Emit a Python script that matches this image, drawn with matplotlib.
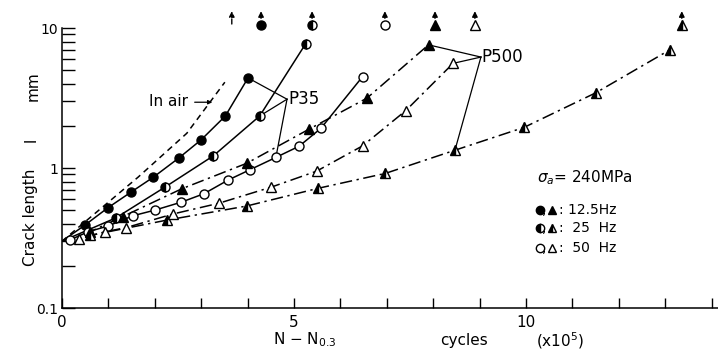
import numpy as np
import matplotlib.pyplot as plt

# crack length l (mm) vs N - N0.3 (x10^5 cycles), sigma_a = 240 MPa
air_x = [0, 1.64, 2.69, 3.51]
air_y = [0.3, 0.86, 1.77, 4.1]

p35_125_x = [0, 0.49, 0.99, 1.48, 1.97, 2.52, 3.0, 3.52, 4.01]
p35_125_y = [0.3, 0.39, 0.52, 0.67, 0.86, 1.18, 1.59, 2.35, 4.4]

p35_25_x = [0, 1.16, 2.22, 3.26, 4.26, 5.25]
p35_25_y = [0.3, 0.44, 0.73, 1.22, 2.35, 7.7]

p35_50_x = [0, 0.17, 0.56, 1.0, 1.53, 2.0, 2.57, 3.06, 3.58, 4.06, 4.61, 5.11, 5.58, 6.48]
p35_50_y = [0.3, 0.306, 0.35, 0.386, 0.456, 0.5, 0.57, 0.655, 0.82, 0.975, 1.19, 1.43, 1.92, 4.5]

p500_125_x = [0, 0.6, 1.31, 2.58, 3.98, 5.32, 6.57, 7.9]
p500_125_y = [0.3, 0.35, 0.45, 0.71, 1.08, 1.89, 3.15, 7.58]

p500_25_x = [0, 0.6, 2.27, 3.98, 5.52, 6.97, 8.47, 9.96, 11.51, 13.1]
p500_25_y = [0.3, 0.33, 0.425, 0.535, 0.716, 0.915, 1.34, 1.95, 3.45, 6.98]

p500_50_x = [0, 0.36, 0.92, 1.38, 2.4, 3.38, 4.51, 5.49, 6.48, 7.41, 8.43]
p500_50_y = [0.3, 0.31, 0.35, 0.375, 0.47, 0.56, 0.73, 0.95, 1.44, 2.57, 5.59]

# failure (x10^5 cycles), shown above the frame
fail_x = [3.66, 4.29, 5.39, 6.96, 8.04, 8.90, 13.36]

fig = plt.figure(figsize=(7.18, 3.52), dpi=100)
ax = fig.add_axes([62/718, 44/352, 656/718, 280/352])

dd = (8, 3, 1.5, 3)
ms = 6.5
full = dict(color='black', mfc='black', mec='black', ms=ms, lw=1.1)
half = dict(color='black', mfc='black', mfcalt='white', mec='black', ms=ms, lw=1.1, fillstyle='left')
empty = dict(color='black', mfc='white', mec='black', ms=ms, lw=1.1)

ax.plot(air_x, air_y, '--', color='black', lw=1.1, dashes=(4, 3))
ax.plot(p35_125_x[1:], p35_125_y[1:], 'o', **full, zorder=3)
ax.plot(p35_125_x, p35_125_y, '-', color='black', lw=1.1)
ax.plot(p35_25_x[1:], p35_25_y[1:], 'o', **half, zorder=3)
ax.plot(p35_25_x, p35_25_y, '-', color='black', lw=1.1)
ax.plot(p35_50_x[1:], p35_50_y[1:], 'o', **empty, zorder=3)
ax.plot(p35_50_x, p35_50_y, '-', color='black', lw=1.1)
ax.plot(p500_125_x[1:], p500_125_y[1:], '^', **full, zorder=3)
ax.plot(p500_125_x, p500_125_y, color='black', lw=1.1, dashes=dd)
ax.plot(p500_25_x[1:], p500_25_y[1:], '^', **half, zorder=3)
ax.plot(p500_25_x, p500_25_y, color='black', lw=1.1, dashes=dd)
ax.plot(p500_50_x[1:], p500_50_y[1:], '^', **empty, zorder=3)
ax.plot(p500_50_x, p500_50_y, color='black', lw=1.1, dashes=dd)

# failure markers with arrows
fail_styles = [None, ('o', full), ('o', half), ('o', empty),
               ('^', full), ('^', empty), ('^', half)]
for fx, st in zip(fail_x, fail_styles):
    if st is not None:
        m, kw = st
        kw = {k: v for k, v in kw.items() if k != 'lw'}
        ax.plot([fx], [10.5], m, clip_on=False, **kw)
        ax.annotate('', xy=(fx, 13.8), xytext=(fx, 11.2), annotation_clip=False,
                    arrowprops=dict(arrowstyle='-|>', color='black', lw=1, mutation_scale=8))
    else:
        ax.annotate('', xy=(fx, 13.8), xytext=(fx, 10.2), annotation_clip=False,
                    arrowprops=dict(arrowstyle='-|>', color='black', lw=1, ls='--',
                                    mutation_scale=8))

# labels on curves
ax.text(2.72, 2.97, 'In air', ha='right', va='center', fontsize=11)
ax.annotate('', xy=(3.3, 2.95), xytext=(2.8, 2.95),
            arrowprops=dict(arrowstyle='-|>', color='black', lw=0.9, mutation_scale=6))
ax.text(4.87, 3.1, 'P35', ha='left', va='center', fontsize=12)
for xs, ys, i in [(p35_125_x, p35_125_y, -1), (p35_25_x, p35_25_y, 4), (p35_50_x, p35_50_y, 10)]:
    ax.plot([4.85, xs[i]], [3.1, ys[i]], '-', color='black', lw=0.9)
ax.text(9.05, 6.2, 'P500', ha='left', va='center', fontsize=12)
for xs, ys, i in [(p500_125_x, p500_125_y, -1), (p500_50_x, p500_50_y, -1), (p500_25_x, p500_25_y, 6)]:
    ax.plot([9.03, xs[i]], [6.2, ys[i]], '-', color='black', lw=0.9)

ax.text(10.24, 0.85, r'$\sigma_a$= 240MPa', ha='left', va='center', fontsize=11)
rows = [(0.5, full, ': 12.5Hz'), (0.372, half, ':  25  Hz'), (0.268, empty, ':  50  Hz')]
for yy, kw, lab in rows:
    kw = {k: v for k, v in kw.items() if k not in ('lw', 'ms')}
    ax.plot([10.3], [yy], 'o', ms=6, **kw)
    ax.plot([10.56], [yy], '^', ms=6, **kw)
    ax.text(10.4, yy, ',', ha='center', va='center', fontsize=10)
    ax.text(10.72, yy, lab, ha='left', va='center', fontsize=10)

ax.set_yscale('log')
ax.set_ylim(0.1, 10)
ax.set_xlim(0, 14.14)
ax.set_yticks([0.1, 1, 10])
ax.set_yticklabels(['0.1', '1', '10'])
ax.set_xticks(range(0, 15))
ax.set_xticklabels(['0', '', '', '', '', '5', '', '', '', '', '10', '', '', '', ''])
ax.tick_params(axis='both', which='both', direction='in', color='black', width=1)
ax.tick_params(axis='y', which='both', length=9, pad=3, labelsize=10)
ax.tick_params(axis='x', which='major', length=7, pad=5, labelsize=11)
for s in ['top', 'right']:
    ax.spines[s].set_visible(False)
for s in ['left', 'bottom']:
    ax.spines[s].set_linewidth(1.1)

fig.text(305/718, 1 - 340/352, r'N $-$ N$_{0.3}$', ha='center', va='center', fontsize=11)
fig.text(464/718, 1 - 341/352, 'cycles', ha='center', va='center', fontsize=11)
fig.text(560/718, 1 - 341/352, r'(x10$^5$)', ha='center', va='center', fontsize=11)
fig.text(31/718, 1 - 217/352, 'Crack length', rotation=90, ha='center', va='center', fontsize=11)
fig.text(31/718, 1 - 140/352, 'l', rotation=90, ha='center', va='center', fontsize=11)
fig.text(33/718, 1 - 86/352, 'mm', rotation=90, ha='center', va='center', fontsize=11)

plt.savefig('out.png', dpi=100)
